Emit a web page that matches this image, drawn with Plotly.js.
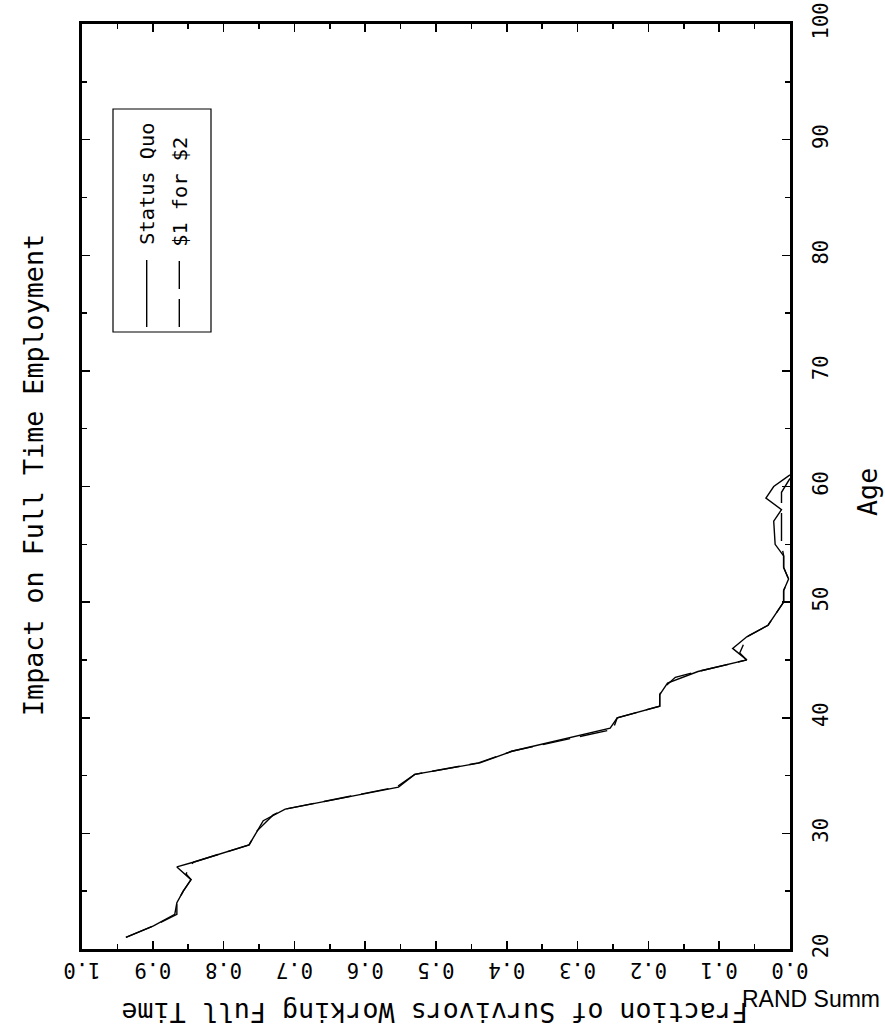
<!DOCTYPE html>
<html>
<head>
<meta charset="utf-8">
<script src="https://cdn.plot.ly/plotly-3.0.1.min.js"></script>
<style>html,body{margin:0;padding:0;background:#fff;}#chart{width:885px;height:1032px;}</style>
</head>
<body>
<div id="chart"></div>
<script>
// ---- data ----
const ageStatusQuo = [21,22,23,24,25,26,27.1,27.5,29,30.2,31.1,32.1,34,35.1,36.1,37.1,39.1,40,41,42,43,44,45,46,47,48,50,51,52,53,54,55,57,58,59,60,61];
const fracStatusQuo = [0.938,0.899,0.869,0.866,0.857,0.846,0.866,0.843,0.764,0.753,0.744,0.713,0.553,0.530,0.438,0.393,0.254,0.244,0.184,0.184,0.173,0.130,0.061,0.081,0.061,0.031,0.009,0.009,0.002,0.009,0.009,0.021,0.023,0.012,0.034,0.023,0.0];

const ageOneForTwo = [21,22,23,24,25,26,26.5,27.5,29,30.2,31.6,32.1,34,35.1,36.1,37.1,39,40,41,42,42.5,43.5,44,45,45.6,47,48,50,51,52,53,54,55,58,59.5,60.7];
const fracOneForTwo = [0.938,0.899,0.866,0.866,0.857,0.846,0.853,0.843,0.764,0.753,0.730,0.713,0.556,0.530,0.440,0.393,0.250,0.244,0.184,0.184,0.180,0.162,0.130,0.061,0.071,0.061,0.031,0.009,0.009,0.002,0.009,0.009,0.012,0.012,0.012,0.0];

const fracTickVals = [0,0.1,0.2,0.3,0.4,0.5,0.6,0.7,0.8,0.9,1.0];
const fracTickText = ["0.0","0.1","0.2","0.3","0.4","0.5","0.6","0.7","0.8","0.9","1.0"];
const ageTickVals = [20,30,40,50,60,70,80,90,100];
const ageTickText = ["20","30","40","50","60","70","80","90","100"];

const seriesNames = ["Status Quo","$1 for $2"];
const titleText = "Impact on Full Time Employment";
const xTitleText = "Fraction of Survivors Working Full Time";
const yTitleText = "Age";
const footerText = "RAND Summ";

// ---- drawing ----
const MONO = '"DejaVu Sans Mono", "Liberation Mono", monospace';
const W = 885, H = 1032;
const M = {l:82, r:95, t:24, b:83};
const PW = W - M.l - M.r, PH = H - M.t - M.b;
const px = v => (v - M.l) / PW;      // pixel -> paper x
const py = v => (H - M.b - v) / PH;  // pixel -> paper y

const traces = [
  {x: fracStatusQuo, y: ageStatusQuo, type:'scatter', mode:'lines', name: seriesNames[0],
   line:{color:'#000', width:1.4}, showlegend:false},
  {x: fracOneForTwo, y: ageOneForTwo, type:'scatter', mode:'lines', name: seriesNames[1],
   line:{color:'#000', width:1.4, dash:'28px,10px'}, showlegend:false}
];

const axisCommon = {
  showgrid:false, zeroline:false, showline:true, linecolor:'#000', linewidth:3,
  mirror:'ticks', ticks:'inside', ticklen:8, tickwidth:1.5, tickcolor:'#000',
  tickfont:{family:MONO, size:20.5, color:'#000'}
};

const layout = {
  width:W, height:H, margin:M, paper_bgcolor:'#fff', plot_bgcolor:'#fff',
  font:{family:MONO, color:'#000'},
  xaxis: Object.assign({}, axisCommon, {
    range:[1,0], autorange:false, tickmode:'array', tickvals:fracTickVals, ticktext:fracTickText,
    tickangle:180, ticklabelstandoff:7,
    minor:{dtick:0.05, tick0:0, ticks:'inside', ticklen:5, tickwidth:1.5, tickcolor:'#000'}
  }),
  yaxis: Object.assign({}, axisCommon, {
    range:[20,100], autorange:false, side:'right', tickmode:'array', tickvals:ageTickVals, ticktext:ageTickText,
    tickangle:-90, ticklabelstandoff:10,
    minor:{dtick:5, tick0:0, ticks:'inside', ticklen:5, tickwidth:1.5, tickcolor:'#000'}
  }),
  shapes:[
    {type:'rect', xref:'paper', yref:'paper', x0:px(113), x1:px(211), y0:py(332), y1:py(109),
     line:{color:'#000', width:1.2}},
    {type:'line', xref:'paper', yref:'paper', x0:px(146.7), x1:px(146.7), y0:py(327), y1:py(260),
     line:{color:'#000', width:1.4}},
    {type:'line', xref:'paper', yref:'paper', x0:px(179.3), x1:px(179.3), y0:py(327), y1:py(260),
     line:{color:'#000', width:1.4, dash:'28px,10px'}}
  ],
  annotations:[
    {text:titleText, xref:'paper', yref:'paper', x:px(33), y:py(475), textangle:-90,
     showarrow:false, xanchor:'center', yanchor:'middle', font:{family:MONO, size:26.7, color:'#000'}},
    {text:xTitleText, xref:'paper', yref:'paper', x:px(435), y:py(1013), textangle:180,
     showarrow:false, xanchor:'center', yanchor:'middle', font:{family:MONO, size:26.7, color:'#000'}},
    {text:yTitleText, xref:'paper', yref:'paper', x:px(868), y:py(492), textangle:-90,
     showarrow:false, xanchor:'center', yanchor:'middle', font:{family:MONO, size:26.7, color:'#000'}},
    {text:seriesNames[0], xref:'paper', yref:'paper', x:px(146.7), y:py(184), textangle:-90,
     showarrow:false, xanchor:'center', yanchor:'middle', font:{family:MONO, size:20.3, color:'#000'}},
    {text:seriesNames[1], xref:'paper', yref:'paper', x:px(179.3), y:py(191.5), textangle:-90,
     showarrow:false, xanchor:'center', yanchor:'middle', font:{family:MONO, size:20.3, color:'#000'}},
    {text:footerText, xref:'paper', yref:'paper', x:px(740), y:py(999), textangle:0,
     showarrow:false, xanchor:'left', yanchor:'middle', font:{family:'"Liberation Sans", Arial, sans-serif', size:23, color:'#000'}}
  ]
};

Plotly.newPlot('chart', traces, layout, {staticPlot:true, displayModeBar:false});
</script>
</body>
</html>
